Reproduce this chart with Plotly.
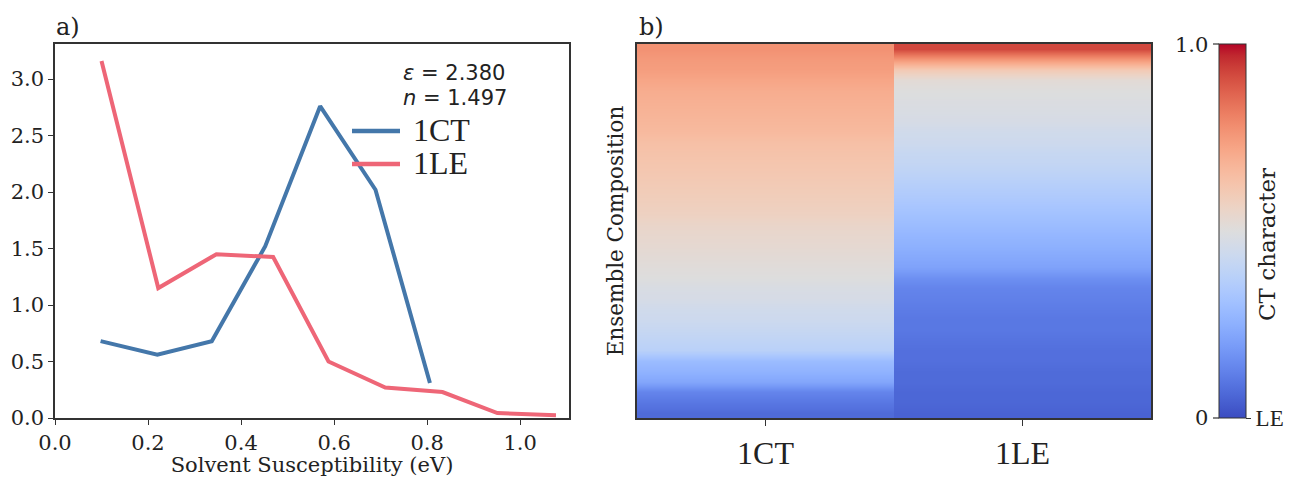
import plotly.graph_objects as go

# ---------------- data ----------------
series_names = ["1CT", "1LE"]
series_colors = ["#4477AA", "#EE6677"]

ct_x = [0.098, 0.220, 0.337, 0.452, 0.570, 0.689, 0.806]
ct_y = [0.68, 0.56, 0.68, 1.52, 2.76, 2.02, 0.31]

le_x = [0.100, 0.222, 0.347, 0.469, 0.588, 0.710, 0.833, 0.951, 1.077]
le_y = [3.16, 1.15, 1.45, 1.425, 0.50, 0.27, 0.23, 0.044, 0.024]

x_ticks = [0.0, 0.2, 0.4, 0.6, 0.8, 1.0]
y_ticks = [0.0, 0.5, 1.0, 1.5, 2.0, 2.5, 3.0]

eps_text = "<i>ε</i> = 2.380"
n_text = "<i>n</i> = 1.497"

# ensemble composition (CT character), bottom row first
heat_categories = ["1CT", "1LE"]
ct_column = [0.07, 0.10, 0.13, 0.22, 0.26, 0.29, 0.38, 0.40, 0.42, 0.44, 0.45, 0.47,
             0.48, 0.50, 0.51, 0.52, 0.53, 0.54, 0.55, 0.57, 0.58, 0.59, 0.60, 0.61,
             0.62, 0.63, 0.64, 0.66, 0.67, 0.68, 0.69, 0.70, 0.72, 0.74, 0.75, 0.77]
le_column = [0.05, 0.06, 0.06, 0.07, 0.07, 0.08, 0.08, 0.09, 0.10, 0.10, 0.11, 0.12,
             0.13, 0.16, 0.21, 0.23, 0.25, 0.27, 0.29, 0.31, 0.33, 0.35, 0.37, 0.39,
             0.41, 0.42, 0.44, 0.45, 0.47, 0.48, 0.49, 0.50, 0.52, 0.60, 0.75, 0.92]

# matplotlib "coolwarm" (Moreland) colour table
coolwarm_rgb = [
    (59, 76, 192), (68, 90, 204), (77, 104, 215), (87, 117, 225), (98, 130, 234),
    (108, 142, 241), (119, 154, 247), (130, 165, 251), (141, 176, 254), (152, 185, 255),
    (163, 194, 255), (174, 201, 253), (184, 208, 249), (194, 213, 244), (204, 217, 238),
    (213, 219, 230), (221, 221, 221), (229, 216, 209), (236, 211, 197), (241, 204, 184),
    (245, 196, 172), (247, 187, 160), (247, 177, 148), (247, 166, 135), (244, 154, 123),
    (241, 141, 111), (236, 127, 99), (229, 112, 88), (222, 96, 77), (213, 80, 66),
    (203, 62, 56), (192, 40, 47), (180, 4, 38)]
coolwarm = [[i / (len(coolwarm_rgb) - 1), "rgb(%d,%d,%d)" % c] for i, c in enumerate(coolwarm_rgb)]

# ---------------- layout helpers ----------------
W, H = 1289, 477
def px(x):
    return x / W
def py(y):
    return 1 - y / H

SERIF = "DejaVu Serif"
TIMES = "Liberation Serif"
SANS = "DejaVu Sans"
AX = "#333333"
TXT = "#222222"

fig = go.Figure()

fig.add_trace(go.Scatter(x=ct_x, y=ct_y, mode="lines", name=series_names[0],
                         line=dict(color=series_colors[0], width=4),
                         xaxis="x", yaxis="y", showlegend=False))
fig.add_trace(go.Scatter(x=le_x, y=le_y, mode="lines", name=series_names[1],
                         line=dict(color=series_colors[1], width=4),
                         xaxis="x", yaxis="y", showlegend=False))

colorbar = dict(
    x=px(1219), xanchor="left", xpad=0, ypad=0,
    y=py(231), yanchor="middle", lenmode="pixels", len=374,
    thickness=27, outlinewidth=1, outlinecolor=AX,
    tickvals=[0], ticktext=["LE"], ticks="outside", ticklen=5,
    tickcolor=AX, tickwidth=1.2,
    tickfont=dict(family=TIMES, size=23, color=TXT),
)
rows = list(range(len(ct_column)))
for k, col in enumerate([ct_column, le_column]):
    fig.add_trace(go.Heatmap(
        z=[[v] for v in col], x=[k - 0.5, k + 0.5], y=rows,
        colorscale=coolwarm, zmin=0, zmax=1, zsmooth="best",
        xaxis="x2", yaxis="y2", name=heat_categories[k],
        showscale=(k == 0), colorbar=colorbar,
    ))

axis_common = dict(showline=True, mirror=True, linecolor=AX, linewidth=1.5,
                   showgrid=False, zeroline=False, ticks="outside", ticklen=5,
                   tickwidth=1.2, tickcolor=AX, automargin=False)

fig.update_layout(
    width=W, height=H, autosize=False,
    margin=dict(l=0, r=0, t=0, b=0),
    paper_bgcolor="white", plot_bgcolor="white",
    showlegend=False,
    xaxis=dict(domain=[px(55), px(569)], range=[0, 1.105], tickvals=x_ticks,
               tickformat=".1f", tickfont=dict(family=SERIF, size=21, color=TXT),
               title=dict(text="Solvent Susceptibility (eV)",
                          font=dict(family=SERIF, size=21, color=TXT), standoff=3),
               anchor="y", **axis_common),
    yaxis=dict(domain=[py(418), py(44)], range=[0, 3.31], tickvals=y_ticks,
               tickformat=".1f", tickfont=dict(family=SERIF, size=21, color=TXT),
               anchor="x", **axis_common),
    xaxis2=dict(domain=[px(637), px(1151)], type="linear",
                range=[-0.5, len(heat_categories) - 0.5],
                tickvals=list(range(len(heat_categories))), ticktext=heat_categories,
                tickfont=dict(family=TIMES, size=32, color=TXT),
                anchor="y2", **dict(axis_common, ticklen=6)),
    yaxis2=dict(domain=[py(418), py(44)], range=[-0.5, len(ct_column) - 0.5],
                showticklabels=False, anchor="x2",
                title=dict(text="Ensemble Composition",
                           font=dict(family=SERIF, size=21.5, color=TXT), standoff=6),
                **dict(axis_common, ticks="")),
)

annotations = [
    dict(text="a)", x=px(54), y=py(27), xanchor="left", yanchor="middle",
         font=dict(family=SERIF, size=24, color=TXT)),
    dict(text="b)", x=px(637), y=py(27), xanchor="left", yanchor="middle",
         font=dict(family=SERIF, size=24, color=TXT)),
    dict(text=eps_text, x=px(401), y=py(73), xanchor="left", yanchor="middle",
         font=dict(family=SANS, size=21, color=TXT)),
    dict(text=n_text, x=px(401), y=py(98), xanchor="left", yanchor="middle",
         font=dict(family=SANS, size=21, color=TXT)),
    dict(text="CT character", x=px(1267), y=py(245), textangle=-90,
         xanchor="center", yanchor="middle",
         font=dict(family=SERIF, size=23, color=TXT)),
    dict(text="1.0", x=px(1210), y=py(45), xanchor="right", yanchor="middle",
         font=dict(family=SERIF, size=21, color=TXT)),
    dict(text="0", x=px(1210), y=py(418), xanchor="right", yanchor="middle",
         font=dict(family=SERIF, size=21, color=TXT)),
]
shapes = [
    dict(type="line", xref="paper", yref="paper", x0=px(1213), x1=px(1219),
         y0=py(44), y1=py(44), line=dict(color=AX, width=1.2)),
    dict(type="line", xref="paper", yref="paper", x0=px(1213), x1=px(1219),
         y0=py(418), y1=py(418), line=dict(color=AX, width=1.2)),
]

# legend entries (drawn manually to match spacing)
legend_rows = [131, 164]
for name, color, ly in zip(series_names, series_colors, legend_rows):
    shapes.append(dict(type="line", xref="paper", yref="paper",
                       x0=px(352), x1=px(400), y0=py(ly), y1=py(ly),
                       line=dict(color=color, width=4.5)))
    annotations.append(dict(text=name, x=px(411), y=py(ly - 1), xanchor="left",
                            yanchor="middle",
                            font=dict(family=TIMES, size=32, color=TXT)))

for a in annotations:
    a.update(xref="paper", yref="paper", showarrow=False)
fig.update_layout(annotations=annotations, shapes=shapes)

fig.write_html("out.html", config={"displayModeBar": False},
               post_script="document.body.style.margin='0px';document.body.style.overflow='hidden';")
